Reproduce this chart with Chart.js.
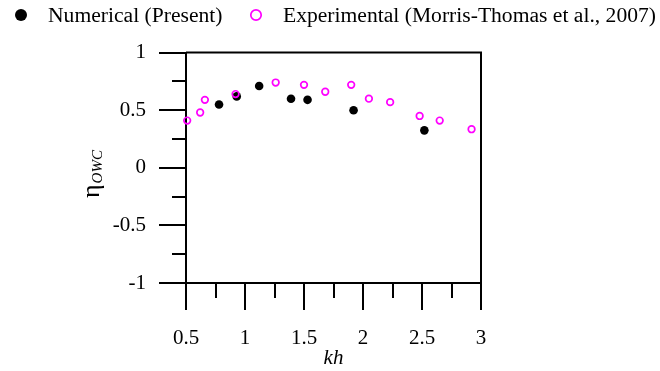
<!DOCTYPE html>
<html>
<head>
<meta charset="utf-8">
<script src="https://cdn.jsdelivr.net/npm/chart.js@4"></script>
<style>
  html, body { margin: 0; padding: 0; background: #fff; }
  #wrap { width: 660px; height: 371px; }
</style>
</head>
<body>
<div id="wrap"><canvas id="grafico" width="660" height="371"></canvas></div>
<script>
// Datos
const khNum = [0.78, 0.93, 1.12, 1.39, 1.53, 1.92, 2.52];
const etaNum = [0.55, 0.62, 0.71, 0.60, 0.59, 0.50, 0.325];
const khExp = [0.51, 0.62, 0.66, 0.92, 1.26, 1.50, 1.68, 1.90, 2.05, 2.23, 2.48, 2.65, 2.92];
const etaExp = [0.41, 0.48, 0.59, 0.64, 0.74, 0.72, 0.66, 0.72, 0.60, 0.57, 0.45, 0.41, 0.335];

const etiquetas = ["Numerical (Present)", "Experimental (Morris-Thomas et al., 2007)"];
const xMin = 0.5, xMax = 3, xPaso = 0.25;
const yMin = -1, yMax = 1, yPaso = 0.25;

const FUENTE = "'Liberation Serif', 'Times New Roman', serif";

function aPuntos(xs, ys) {
  return xs.map((x, i) => ({ x: x, y: ys[i] }));
}

function esMayor(v) {
  return Math.abs(v / 0.5 - Math.round(v / 0.5)) < 1e-6;
}

// marcas, marco superior/derecho, leyenda y titulo del eje y
const extras = {
  id: 'extras',
  afterDraw(chart) {
    const ctx = chart.ctx;
    const xs = chart.scales.x, ys = chart.scales.y;
    const a = chart.chartArea;
    ctx.save();
    ctx.strokeStyle = '#000';
    ctx.lineWidth = 2;
    ctx.lineCap = 'butt';
    ctx.beginPath();
    // ticks del eje y (hacia afuera)
    for (let v = yMin; v <= yMax + 1e-9; v += yPaso) {
      const py = Math.round(ys.getPixelForValue(v));
      const largo = esMayor(v) ? 27 : 14;
      ctx.moveTo(a.left - largo, py);
      ctx.lineTo(a.left, py);
    }
    // ticks del eje x
    for (let v = xMin; v <= xMax + 1e-9; v += xPaso) {
      const px = Math.round(xs.getPixelForValue(v));
      const largo = esMayor(v) ? 27 : 15;
      ctx.moveTo(px, a.bottom);
      ctx.lineTo(px, a.bottom + largo);
    }
    // marco superior y derecho
    ctx.moveTo(a.left, a.top);
    ctx.lineTo(a.right + 1, a.top);
    ctx.moveTo(a.right, a.top);
    ctx.lineTo(a.right, a.bottom);
    ctx.stroke();

    // leyenda
    const ds = chart.data.datasets;
    const posLeyenda = [{ px: 21, tx: 48 }, { px: 256, tx: 283 }];
    ds.forEach((d, i) => {
      const p = posLeyenda[i];
      ctx.fillStyle = d.backgroundColor;
      ctx.strokeStyle = d.borderColor;
      ctx.lineWidth = d.pointBorderWidth;
      Chart.helpers.drawPoint(ctx, {
        pointStyle: 'circle',
        radius: i === 0 ? 6 : 5.2,
        borderWidth: d.pointBorderWidth
      }, p.px, 15);
      ctx.font = "21.6px " + FUENTE;
      ctx.textBaseline = 'middle';
      ctx.textAlign = 'left';
      ctx.fillStyle = '#000';
      ctx.fillText(d.label, p.tx, 16);
    });

    // titulo eje y: eta con subindice OWC
    ctx.translate(99, 198);
    ctx.rotate(-Math.PI / 2);
    ctx.textBaseline = 'alphabetic';
    ctx.fillStyle = '#000';
    ctx.font = "26px " + FUENTE;
    ctx.fillText('η', 0, 0);
    const w = ctx.measureText('η').width;
    ctx.font = "italic 15px " + FUENTE;
    ctx.fillText('OWC', w + 1, 3);
    ctx.restore();
  }
};

const datosNum = aPuntos(khNum, etaNum);
const datosExp = aPuntos(khExp, etaExp);

let grafico;
function crearGrafico() {
  const ctx = document.getElementById('grafico').getContext('2d');
  grafico = new Chart(ctx, {
    type: 'scatter',
    data: {
      datasets: [
        {
          label: etiquetas[0],
          data: datosNum,
          pointStyle: 'circle',
          pointRadius: 4.3,
          pointBorderWidth: 0,
          backgroundColor: '#000',
          borderColor: '#000',
          clip: false,
          order: 2
        },
        {
          label: etiquetas[1],
          data: datosExp,
          pointStyle: 'circle',
          pointRadius: 3.3,
          pointBorderWidth: 1.7,
          backgroundColor: 'rgba(0,0,0,0)',
          borderColor: '#ff00ff',
          clip: false,
          order: 1
        }
      ]
    },
    options: {
      responsive: false,
      animation: false,
      events: [],
      layout: { padding: { left: 0, right: 179, top: 49, bottom: 0 } },
      plugins: {
        legend: { display: false },
        tooltip: { enabled: false }
      },
      scales: {
        x: {
          type: 'linear',
          min: xMin,
          max: xMax,
          afterFit(s) { s.height = 88; },
          border: { display: true, color: '#000', width: 2 },
          grid: { display: true, drawOnChartArea: false, drawTicks: false },
          ticks: {
            stepSize: xPaso,
            padding: 43,
            color: '#000',
            font: { family: FUENTE, size: 21 },
            maxRotation: 0,
            autoSkip: false,
            callback: v => esMayor(v) ? String(v) : ''
          },
          title: {
            display: true,
            text: 'kh',
            color: '#000',
            font: { family: FUENTE, size: 21, style: 'italic' },
            padding: { top: 3, bottom: 0 }
          }
        },
        y: {
          type: 'linear',
          min: yMin,
          max: yMax,
          afterFit(s) { s.width = 186; },
          border: { display: true, color: '#000', width: 2 },
          grid: { display: true, drawOnChartArea: false, drawTicks: false },
          ticks: {
            stepSize: yPaso,
            padding: 40,
            color: '#000',
            font: { family: FUENTE, size: 21 },
            autoSkip: false,
            callback: v => esMayor(v) ? String(v) : ''
          }
        }
      }
    },
    plugins: [extras]
  });
}

window.onload = () => {
  crearGrafico();
};
</script>
</body>
</html>
